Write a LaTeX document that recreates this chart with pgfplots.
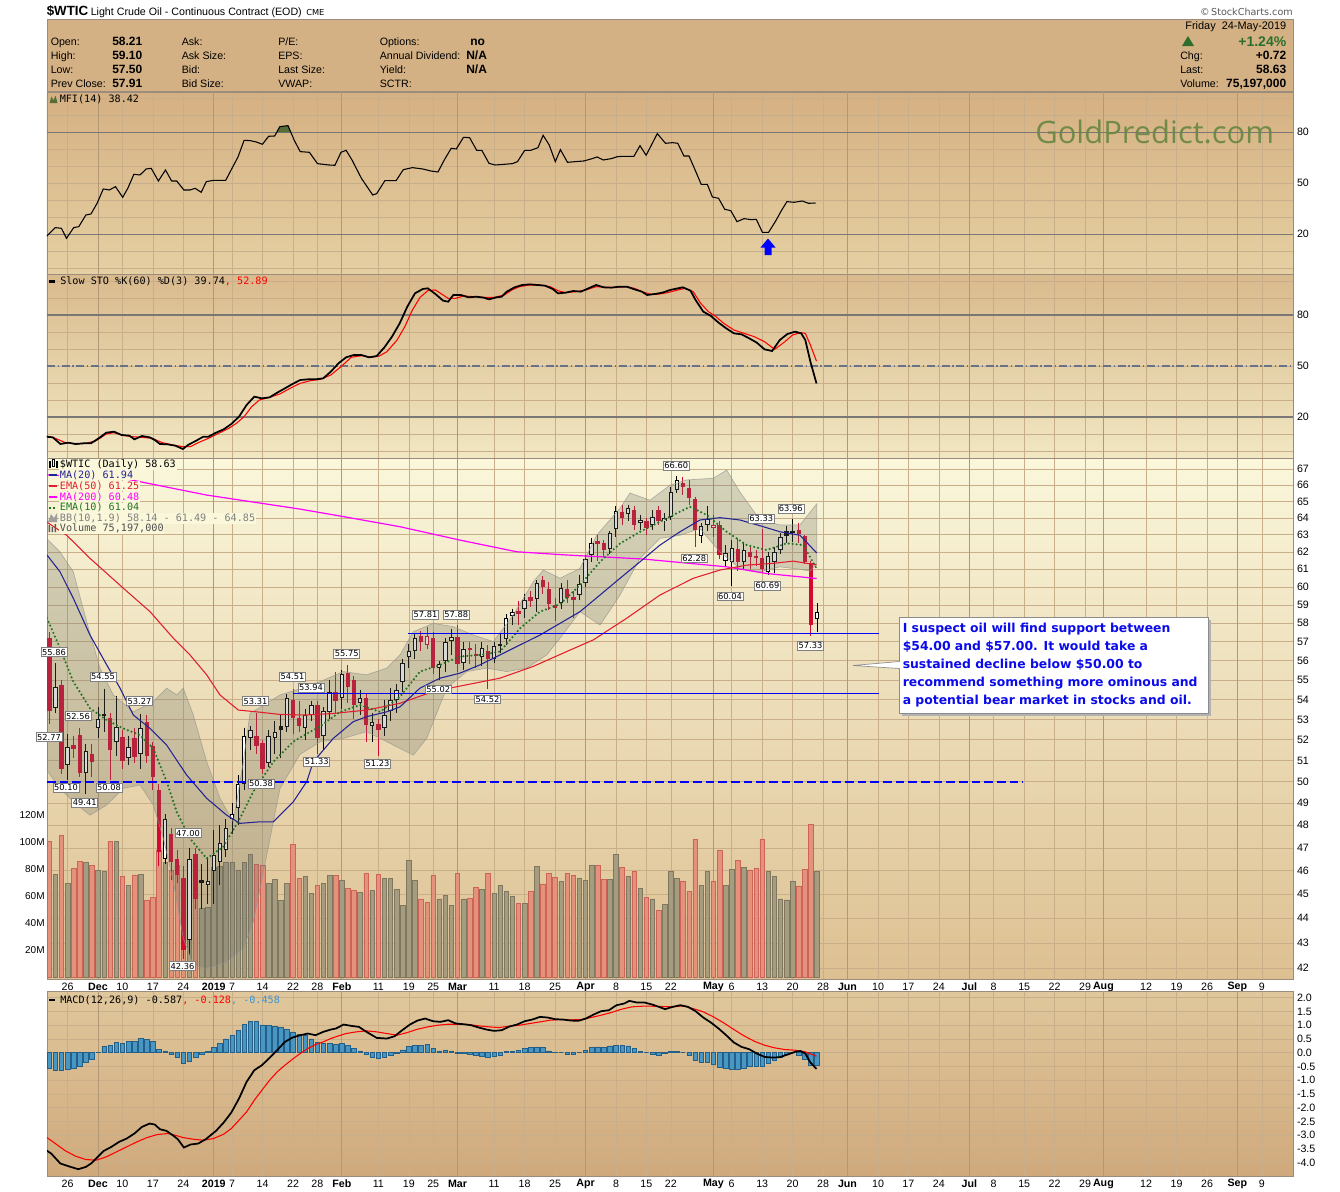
\documentclass[border=0pt]{standalone}
\usepackage{fontspec}
\setmainfont{Liberation Sans}
\newfontfamily\dvs{DejaVu Sans}
\newfontfamily\dvm{DejaVu Sans Mono}
\newfontfamily\osans{Open Sans}
\usepackage{pgfplots}
\usepackage{pgfplotstable}
\pgfplotsset{compat=1.18}
\newcommand\fs[2]{\fontsize{#1}{#2}\selectfont}
\definecolor{hdr}{RGB}{212,177,132}
\definecolor{framec}{RGB}{155,140,125}
\definecolor{mfitop}{RGB}{213,176,130}
\definecolor{mfibot}{RGB}{229,208,163}
\definecolor{stotop}{RGB}{217,186,141}
\definecolor{stobot}{RGB}{241,231,194}
\definecolor{prtop}{RGB}{250,247,219}
\definecolor{prmid}{RGB}{242,233,198}
\definecolor{prbot}{RGB}{221,192,146}
\definecolor{mactop}{RGB}{224,199,156}
\definecolor{macbot}{RGB}{207,169,124}
\definecolor{gridc}{RGB}{200,175,138}
\definecolor{gridm}{RGB}{178,152,118}
\definecolor{refc}{RGB}{122,120,118}
\definecolor{axr}{RGB}{170,110,100}
\definecolor{candred}{RGB}{212,8,48}
\definecolor{volred}{RGB}{228,146,124}
\definecolor{volredd}{RGB}{205,100,88}
\definecolor{volgray}{RGB}{166,157,128}
\definecolor{volgrayd}{RGB}{128,119,95}
\definecolor{bbfill}{RGB}{105,112,100}
\definecolor{bbline}{RGB}{150,150,145}
\definecolor{ma20c}{RGB}{35,35,150}
\definecolor{ema50c}{RGB}{225,30,45}
\definecolor{ma200c}{RGB}{255,0,255}
\definecolor{ema10c}{RGB}{35,115,35}
\definecolor{supc}{RGB}{0,0,255}
\definecolor{machist}{RGB}{72,150,196}
\definecolor{machistd}{RGB}{35,95,135}
\definecolor{macblue}{RGB}{60,150,210}
\definecolor{gp}{RGB}{104,134,66}
\definecolor{boxblue}{RGB}{10,10,235}
\definecolor{upg}{RGB}{45,110,45}
\definecolor{mfig}{RGB}{85,110,55}
\definecolor{stodash}{RGB}{105,115,135}
\pgfplotsset{
  panel/.style={
    scale only axis, width=934.5pt, xmin=47, xmax=1293, anchor=north west,
    axis line style={draw=framec, line width=0.5pt},
    major tick length=0pt, minor tick length=0pt,
    xtick={67.6,122.4,152.9,183.4,232.1,262.6,293.0,317.4,378.3,408.8,433.2,494.1,524.6,555.0,616.0,646.4,670.8,731.7,762.2,792.6,823.1,878.0,908.4,938.9,993.7,1024.2,1054.6,1085.1,1146.0,1176.5,1207.0,1261.8},
    extra x ticks={98.0,213.8,341.8,457.5,585.5,713.4,847.5,969.3,1103.4,1237.4},
    xticklabels={}, extra x tick labels={},
    xmajorgrids,
    major grid style={draw=gridc, line width=0.45pt},
    minor grid style={draw=gridc, line width=0.45pt},
    extra x tick style={grid=major, major grid style={draw=gridm, line width=0.6pt}},
    ytick pos=right, yticklabel pos=right,
    yticklabel style={font=\fs{8}{9}, anchor=west, inner sep=0pt, xshift=2.8pt},
    xticklabel style={font=\fs{8}{9}, anchor=center, inner sep=0pt, yshift=-5.6pt},
  },
  datelabels/.style={
    xticklabels={26,10,17,24,7,14,22,28,11,19,25,11,18,25,8,15,22,6,13,20,28,10,17,24,8,15,22,29,12,19,26,9},
    extra x tick labels={\textbf{Dec},\textbf{2019},\textbf{Feb},\textbf{Mar},\textbf{Apr},\textbf{May},\textbf{Jun},\textbf{Jul},\textbf{Aug},\textbf{Sep}},
  },
  candle/.style={draw=none, mark=none, mark size=0pt, forget plot},
}
\tikzset{
  plab/.style={draw=black!50, fill=white, inner sep=0.9pt, font=\dvs\fs{6.2}{7}, line width=0.4pt},
  leg/.style={anchor=west, inner sep=0.5pt, font=\dvm\fs{7.6}{8}, fill=prtop},
  hl/.style={anchor=base west, inner sep=0pt, font=\fs{8}{9}},
  hv/.style={anchor=base west, inner sep=0pt, font=\bfseries\fs{9}{10}},
}
\begin{document}
\pgfplotstableread{
i o h l c v t m
0 57.2 57.5 52.77 53.43 100.7 2 -0.57
1 53.55 55.86 53.3 54.63 76 0 -0.63
2 54.73 55.0 50.35 50.58 104.7 2 -0.65
3 50.8 52.3 50.10 51.63 69.4 0 -0.61
4 51.75 52.2 51.1 51.56 80.5 2 -0.55
5 52.25 52.56 50.2 50.40 85.4 2 -0.48
6 50.4 51.8 49.41 51.45 85 0 -0.36
7 51.3 51.8 50.2 50.93 82.5 2 -0.23
8 52.6 53.6 52.1 53.0 78.8 0 0.02
9 53.15 54.55 52.4 53.25 78 0 0.24
10 53.06 53.3 50.08 51.49 100.2 2 0.28
11 51.9 54.2 51.2 52.61 100.2 0 0.38
12 52.15 52.5 50.6 51.0 74.3 2 0.34
13 51.1 52.2 50.8 51.65 68.1 0 0.42
14 52.1 52.6 50.9 51.15 75.6 2 0.42
15 51.3 53.27 50.6 52.58 76 0 0.52
16 52.9 53.2 50.9 51.20 56.5 2 0.48
17 51.7 51.9 49.6 50.2 59 2 0.42
18 49.6 49.9 46.2 46.8 94 2 0.12
19 46.5 48.5 46.3 48.3 85 0 0.07
20 47.6 47.9 45.6 46.4 79.3 2 -0.05
21 46.5 46.9 45.5 45.8 82.5 2 -0.18
22 45.7 46.2 42.36 42.7 53.3 2 -0.39
23 43.1 47.0 42.5 46.5 79.3 0 -0.30
24 46.75 47.0 44.4 44.8 82.5 2 -0.18
25 45.6 46.3 44.4 45.5 50.9 1 -0.06
26 45.4 46.6 44.6 45.55 51.6 0 0.06
27 46.0 47.8 44.6 46.7 81.2 0 0.18
28 46.4 48.0 45.4 47.2 81.7 0 0.34
29 46.9 48.3 46.6 47.9 85 0 0.50
30 48.3 49.0 47.6 48.5 85 0 0.64
31 48.8 50.3 48.0 49.9 79.3 0 0.82
32 49.9 52.6 49.6 52.2 85 0 1.03
33 52.1 52.7 51.5 52.5 91.1 0 1.15
34 52.2 53.31 51.3 51.7 83.5 2 1.15
35 51.85 52.0 50.38 50.6 83 2 1.01
36 50.9 52.5 50.7 52.2 69.4 0 0.98
37 52.1 52.9 51.3 52.4 72.4 0 0.95
38 52.7 53.2 51.1 52.5 56.5 1 0.91
39 52.65 54.3 52.4 54.1 69.4 0 0.85
40 54.0 54.51 52.3 53.06 98.3 2 0.76
41 53.06 53.9 52.4 52.7 73.1 2 0.67
42 52.6 53.5 52.0 53.2 74.3 0 0.62
43 53.2 53.94 52.9 53.7 62 0 0.50
44 53.7 53.9 51.33 52.1 68.1 2 0.38
45 52.2 53.6 51.5 53.4 69.4 0 0.34
46 53.35 55.0 53.0 54.4 75 0 0.34
47 54.4 55.4 53.3 53.9 75 2 0.30
48 54.06 55.5 53.5 55.3 71.4 0 0.34
49 55.37 55.75 53.8 54.62 65.7 2 0.28
50 55.0 55.2 53.0 53.73 64.4 2 0.16
51 53.8 54.5 53.2 54.06 62.7 0 0.07
52 54.06 54.3 51.9 52.75 76.8 2 -0.04
53 52.69 53.3 51.9 52.86 64.4 0 -0.15
54 52.76 53.0 51.23 52.48 76 2 -0.21
55 52.56 54.0 52.2 53.2 73.1 0 -0.17
56 53.4 54.6 52.9 53.98 73.1 0 -0.11
57 53.98 54.8 53.3 54.48 65 0 -0.02
58 54.9 56.1 54.4 55.9 53.3 0 0.10
59 56.2 56.9 55.6 56.5 86.2 0 0.22
60 56.5 57.4 56.1 57.2 71.4 0 0.28
61 57.3 57.6 56.5 57.0 57.8 2 0.28
62 56.85 57.81 56.6 57.3 55 3 0.30
63 57.2 57.5 55.3 55.6 75 2 0.16
64 55.6 56.0 55.02 55.8 57.8 0 0.07
65 56.0 57.2 55.4 57.0 60.7 0 0.10
66 57.05 57.7 56.3 57.26 53.3 0 0.07
67 57.26 57.88 55.4 55.8 76.8 2 -0.02
68 55.9 57.0 55.5 56.6 57.8 0 -0.02
69 56.65 57.0 55.8 56.56 58.3 2 -0.06
70 56.35 56.9 55.6 56.22 66.4 2 -0.08
71 56.2 57.0 55.7 56.66 65 0 -0.12
72 56.5 56.8 54.52 56.07 76.8 2 -0.16
73 56.1 57.0 55.9 56.79 62 0 -0.12
74 56.8 57.4 56.4 56.87 68.1 0 -0.08
75 57.13 58.5 56.8 58.26 63.7 0 0.04
76 58.4 58.8 57.9 58.61 59.5 0 0.06
77 58.65 59.2 57.9 58.52 54.6 2 0.08
78 58.8 59.6 58.3 59.3 54.6 0 0.16
79 59.45 59.8 58.9 59.2 63.5 2 0.18
80 59.35 60.4 58.6 60.23 81.7 0 0.21
81 60.4 60.6 59.6 59.98 68.9 2 0.18
82 59.9 60.3 58.7 59.04 76.8 2 0.07
83 59.0 59.4 58.1 58.82 73.8 2 0.01
84 59.1 60.2 58.8 59.94 70.6 0 0
85 59.9 60.4 59.1 59.41 76.8 2 -0.04
86 59.46 59.8 58.3 59.30 75 2 -0.06
87 59.55 60.7 59.3 60.14 73.1 0 0
88 60.2 61.8 60.0 61.59 71.4 0 0.08
89 61.82 62.8 61.4 62.55 82.5 0 0.18
90 62.65 63.0 61.5 62.46 82.5 2 0.21
91 62.55 62.7 61.7 62.10 72 2 0.18
92 62.15 63.2 61.9 63.08 72 0 0.25
93 63.34 64.7 62.9 64.40 91.1 0 0.28
94 64.38 64.8 63.6 64.0 81.2 2 0.28
95 64.22 64.8 63.8 64.61 74.6 0 0.25
96 64.48 64.7 63.3 63.58 78.3 2 0.16
97 63.7 64.2 63.3 63.89 65.7 0 0.06
98 63.8 64.0 63.0 63.40 58.7 2 0
99 63.6 64.5 63.3 64.05 57.8 0 -0.05
100 64.48 64.7 63.6 63.84 49.6 2 -0.08
101 63.82 64.3 63.2 64.0 54 0 -0.02
102 64.04 65.9 63.9 65.55 78.6 0 0.04
103 65.7 66.60 65.5 66.30 73.1 0 0.06
104 66.11 66.5 65.4 65.89 71.2 2 0
105 65.8 66.3 64.8 65.21 63.5 2 -0.11
106 65.15 65.3 62.28 63.30 101.9 2 -0.27
107 62.93 63.7 62.5 63.50 68.1 0 -0.33
108 63.58 64.7 63.2 63.91 78 0 -0.35
109 63.4 64.2 62.9 63.6 71.2 3 -0.42
110 63.58 63.8 61.6 61.81 93.5 2 -0.53
111 61.5 62.4 61.2 61.94 68.1 0 -0.57
112 61.43 62.7 60.04 62.25 79.5 0 -0.59
113 62.15 62.8 60.9 61.40 86.2 2 -0.59
114 61.43 62.5 61.0 62.12 81.2 0 -0.55
115 62.0 62.3 61.0 61.70 79.3 2 -0.51
116 61.75 62.1 61.2 61.66 80.5 2 -0.51
117 61.66 63.33 60.8 61.04 101.9 2 -0.48
118 60.86 62.0 60.69 61.78 78.3 0 -0.39
119 61.4 62.3 60.8 62.02 74.6 0 -0.27
120 62.1 63.1 61.9 62.87 57.8 0 -0.15
121 63.22 63.5 62.5 62.95 57.1 1 -0.06
122 63.1 63.96 62.6 63.22 71.2 0 0
123 63.26 63.7 62.5 63.05 67.5 2 -0.08
124 62.93 63.0 61.3 61.42 79.5 2 -0.23
125 61.38 61.5 57.33 57.91 113 2 -0.45
126 58.21 59.10 57.50 58.63 78.6 0 -0.46
}\ohlc
\pgfplotstableread{
x p
47 61.82
60 60.86
73.3 59.37
90 57.36
106.7 55.78
120 54.58
133.3 53.22
150 52.56
166.7 51.74
186.7 50.31
206.7 49.23
226.7 48.46
240 48.09
260 48.16
273.3 48.16
293.3 49.07
306.7 50.00
313.3 50.94
333.3 52.07
353.3 52.89
366.7 53.14
386.7 53.38
400 53.63
420 54.58
440 55.09
460 55.35
480 55.78
500 56.30
520 56.83
540 57.36
560 57.99
580 58.63
600 59.55
620 60.49
640 61.43
660 62.40
680 63.18
700 63.88
720 64.02
740 63.88
760 63.54
780 63.18
800 62.98
816.7 61.94
}\maTwenty
\pgfplotstableread{
x p
47 63.75
66.7 62.98
90 61.63
123.3 59.93
150 58.63
173.3 57.19
190 56.30
206.7 55.26
220 54.23
238.3 53.47
256.7 53.38
280 53.25
306.7 53.22
333.3 53.30
366.7 53.47
400 53.81
433.3 54.41
466.7 54.75
500 55.09
533.3 55.70
566.7 56.48
593.3 57.10
626.7 58.27
660 59.55
693.3 60.49
720 60.96
746.7 61.24
773.3 61.34
793.3 61.47
816.7 61.25
}\emaFifty
\pgfplotstableread{
x p
47 66.63
120 66.46
206.7 65.39
300 64.54
340 64.12
400 63.48
460 62.69
516.7 62.01
566.7 61.82
643 61.59
726.7 61.14
766.7 60.76
816.7 60.48
}\maTwoHundred
\pgfplotstableread{
x p
47 58.27
60 56.66
73.3 54.91
90 53.56
106.7 52.97
123.3 52.56
140 52.23
153.3 51.58
166.7 50.00
176.7 48.61
190 47.41
206.7 46.53
223.3 47.05
240 48.32
253.3 49.54
273.3 50.94
293.3 51.91
306.7 52.30
320 52.65
340 53.38
360 53.72
380 53.38
400 54.14
420 55.43
440 55.78
460 56.22
480 56.30
500 56.48
520 57.72
540 58.63
560 59.04
580 60.11
600 61.43
620 62.49
640 63.18
660 63.78
673.3 64.18
690 64.68
706.7 64.18
726.7 63.18
746.7 62.40
766.7 62.11
786.7 62.50
803.3 62.40
816.7 61.04
}\emaTen
\pgfplotstableread{
x p
46.7 62.79
60 62.00
73.3 60.86
86.7 58.08
100 55.61
113.3 54.23
133.3 53.38
153.3 53.89
166.7 54.58
176.7 54.23
183.3 54.58
193.3 53.22
206.7 50.94
220 49.23
233.3 48.16
243.3 50.94
250 53.30
266.7 53.81
280 54.23
300 54.54
320 54.91
343.3 55.43
366.7 55.26
386.7 55.61
400 56.30
413.3 57.54
433.3 57.99
453.3 57.81
473.3 57.36
493.3 57.01
513.3 58.45
533.3 60.29
543.3 60.96
560 60.49
580 61.05
596.7 62.98
620 64.59
630 65.51
650 65.08
670 66.00
686.7 66.32
713.3 66.43
726.7 66.94
740 65.57
760 63.88
780 63.59
800 63.59
816.7 64.85
816.7 61.30
810 60.90
800 61.00
780 61.14
760 60.86
740 61.05
720 62.00
700 63.36
680 62.98
660 62.79
640 61.63
620 59.55
600 57.90
580 58.63
560 57.19
546.7 56.30
526.7 55.61
506.7 55.43
486.7 55.61
466.7 55.43
446.7 54.58
426.7 52.07
413.3 51.26
400 51.58
386.7 51.91
366.7 52.40
343.3 52.07
320 51.9
300 51.3
280 49.69
266.7 46.68
253.3 43.86
243.3 42.78
226.7 42.24
206.7 41.98
193.3 42.11
183.3 43.18
173.3 45.53
163.3 47.42
153.3 48.92
140 49.85
123.3 49.69
106.7 48.92
90 48.46
73.3 49.07
60 49.69
46.7 50.55
}\bband
\pgfplotstableread{
x p
47 50
1023 50
}\fiftyline
\pgfplotstableread{
x p
408 57.45
879 57.45
}\supA
\pgfplotstableread{
x p
293 54.30
879 54.30
}\supB
\pgfplotstableread{
x v
46.1 18.63
55.3 23.92
61.4 23.53
66.5 17.65
73.7 23.92
78.8 24.51
85.9 31.37
91.0 31.96
97.1 38.24
103.3 46.67
109.4 46.08
115.5 48.04
122.7 41.76
127.8 47.06
133.9 55.29
140.0 54.90
146.1 58.43
151.2 58.82
158.4 51.37
165.5 57.84
171.6 51.37
176.7 51.37
183.9 46.08
190.0 46.08
195.1 47.06
201.2 44.71
206.3 50.98
213.5 51.76
225.7 51.76
238.0 65.49
244.1 75.29
250.2 75.10
256.3 74.31
262.4 72.94
268.6 77.65
274.7 77.84
279.8 83.33
288.0 83.92
294.1 75.49
300.2 68.63
309.4 68.24
317.5 61.57
328.8 60.78
334.9 60.59
341.0 68.24
346.1 69.41
352.2 63.53
361.4 52.94
372.7 43.14
376.7 43.92
384.9 51.57
396.1 51.57
403.3 58.04
412.4 59.22
422.7 58.43
430.8 57.25
438.0 56.67
444.1 63.53
451.2 70.59
456.3 70.20
463.5 77.06
469.6 76.86
476.7 69.41
481.8 69.41
489.0 61.76
495.1 60.78
504.3 61.18
512.4 61.57
517.5 62.75
524.7 69.41
530.8 69.41
538.0 70.98
543.1 78.24
549.2 72.55
555.3 62.75
560.4 69.80
567.5 62.35
575.7 62.75
583.9 63.14
591.0 64.31
597.1 65.49
603.3 63.73
611.4 64.51
617.5 65.69
623.7 65.88
633.9 65.88
640.0 72.16
646.1 66.47
657.3 79.22
665.5 73.53
672.6 73.92
677.8 73.53
683.9 66.08
689.0 66.08
695.1 57.84
701.2 49.41
707.3 49.41
712.4 41.96
718.6 41.18
724.7 34.71
730.8 33.92
737.0 27.45
744.1 29.22
751.2 28.63
756.3 28.82
762.4 21.18
768.6 21.18
775.7 27.84
780.8 33.33
786.9 39.22
794.1 38.82
802.2 39.61
808.4 38.24
815.5 38.42
}\mfi
\pgfplotstableread{
x k
46.1 8.43
52.8 8.04
60.4 4.12
68.1 4.90
75.7 4.12
83.4 4.51
91.0 4.51
98.7 7.45
106.3 10.78
114.0 11.37
121.6 9.41
129.3 9.02
134.4 6.86
142.0 8.82
149.7 8.04
154.8 6.47
159.9 4.12
167.6 3.92
175.2 3.14
182.9 1.18
188.0 3.53
195.6 5.88
203.3 8.43
208.4 8.43
216.0 10.78
223.7 12.75
231.3 15.88
239.0 20.20
246.6 27.06
254.3 31.96
261.9 30.98
269.6 31.57
277.2 34.31
284.9 36.86
292.5 39.41
300.2 41.76
307.9 42.16
315.5 42.16
323.2 42.75
330.8 46.67
338.5 51.57
346.1 55.10
353.8 56.47
361.4 56.47
369.1 55.10
376.7 55.88
384.4 60.98
392.0 67.25
399.7 75.10
407.3 84.90
415.0 92.75
422.7 95.29
427.8 95.69
435.4 92.35
443.1 88.43
448.2 87.84
453.3 91.76
460.9 91.76
468.6 90.39
476.2 90.78
483.9 90.20
489.0 89.22
496.6 90.39
501.7 90.78
506.8 93.73
514.5 96.27
522.1 97.65
529.8 98.04
537.4 97.65
545.1 97.25
552.8 95.29
557.9 92.75
565.5 93.14
573.2 94.12
580.8 93.73
588.5 95.69
596.1 97.65
603.8 96.27
611.4 96.08
619.1 96.67
626.7 96.67
634.4 95.10
642.0 93.73
647.1 91.76
654.8 92.35
662.4 93.14
670.1 94.71
677.8 95.69
682.9 96.27
690.5 94.31
695.6 88.82
703.3 81.96
710.9 79.41
718.6 75.49
726.2 72.16
733.9 69.22
741.5 68.63
749.2 66.27
756.8 63.73
764.5 59.80
772.1 58.82
779.8 65.29
787.4 68.82
795.1 70.20
801.2 69.22
805.3 65.29
810.4 52.55
816.5 39.74
}\stok
\pgfplotstableread{
x d
46.1 8.82
55.3 7.45
65.5 4.90
75.7 4.12
85.9 4.51
96.1 6.08
106.3 10.00
114.0 10.78
121.6 9.41
131.8 8.43
142.0 8.04
152.2 7.45
162.4 4.90
172.7 3.53
182.9 2.55
190.5 2.55
198.2 4.90
208.4 7.45
218.6 10.39
228.8 13.33
236.4 16.27
244.1 20.20
251.7 26.08
259.4 30.00
269.6 31.57
279.8 33.53
290.0 36.86
300.2 39.80
310.4 41.37
320.6 42.16
330.8 44.71
341.0 49.61
351.2 55.10
361.4 56.08
371.6 55.10
379.3 55.88
386.9 58.43
397.1 65.29
404.8 73.14
412.4 82.94
420.1 90.39
427.8 94.31
435.4 94.71
443.1 91.76
448.2 89.80
455.8 89.80
463.5 91.18
473.7 90.78
483.9 90.39
494.1 90.39
504.3 91.76
511.9 94.71
519.6 96.67
529.8 97.65
540.0 97.65
550.2 96.67
557.9 94.31
565.5 93.14
575.7 93.73
585.9 94.71
596.1 96.67
606.3 96.27
616.5 96.27
626.7 96.67
634.4 95.69
642.0 93.73
649.7 92.35
657.3 92.16
667.5 93.14
677.8 94.71
685.4 95.69
693.1 93.73
700.7 86.86
708.4 81.96
716.0 79.02
723.7 75.10
733.9 71.18
744.1 69.22
754.3 67.25
764.5 64.31
774.7 59.80
784.9 64.31
792.6 68.24
800.2 69.61
805.3 69.22
810.4 62.35
816.5 52.89
}\stod
\pgfplotstableread{
x m
46.1 -3.545
51.2 -3.667
60.4 -4.030
70.6 -4.152
78.3 -4.236
85.9 -4.152
91.0 -4.030
96.1 -3.848
103.8 -3.570
111.4 -3.424
119.1 -3.242
126.7 -3.121
134.4 -2.939
142.0 -2.697
149.7 -2.576
154.8 -2.612
159.9 -2.782
166.5 -2.842
172.7 -3.000
177.8 -3.145
183.9 -3.448
190.5 -3.339
198.2 -3.303
205.8 -3.145
216.0 -2.842
223.7 -2.539
231.3 -2.176
239.0 -1.667
246.6 -1.061
254.3 -0.636
261.9 -0.455
269.6 -0.188
277.2 0.091
284.9 0.394
292.5 0.552
300.2 0.636
307.9 0.697
315.5 0.636
323.2 0.758
330.8 0.842
335.9 0.879
343.6 1.024
351.2 0.976
358.9 0.939
366.5 0.758
376.7 0.539
386.9 0.515
394.6 0.600
402.2 0.818
409.9 1.024
417.5 1.170
425.2 1.242
432.9 1.145
440.5 1.121
448.2 1.182
455.8 1.061
463.5 1.036
471.1 1.000
478.8 0.915
486.4 0.842
494.1 0.794
501.7 0.818
509.4 0.952
517.0 1.024
524.7 1.145
532.3 1.206
540.0 1.303
547.6 1.279
555.3 1.218
563.0 1.206
570.6 1.170
578.3 1.158
585.9 1.242
593.6 1.388
601.2 1.509
608.9 1.545
616.5 1.727
624.2 1.788
629.3 1.885
636.9 1.824
644.6 1.824
652.2 1.752
659.9 1.655
665.0 1.582
672.6 1.667
680.3 1.727
688.0 1.667
695.6 1.509
703.3 1.279
710.9 1.097
718.6 0.879
726.2 0.636
733.9 0.370
741.5 0.212
749.2 0.127
756.8 -0.030
764.5 -0.152
772.1 -0.176
779.8 -0.164
787.4 -0.067
795.1 0.030
800.2 0.067
805.3 -0.030
810.4 -0.358
816.5 -0.587
}\macdl
\pgfplotstableread{
x s
46.1 -3.061
55.3 -3.303
65.5 -3.570
75.7 -3.764
85.9 -3.885
96.1 -3.909
106.3 -3.788
116.5 -3.606
126.7 -3.424
136.9 -3.242
147.1 -3.085
157.3 -2.976
167.6 -2.939
175.2 -3.000
182.9 -3.085
193.1 -3.145
203.3 -3.182
213.5 -3.121
223.7 -2.964
231.3 -2.758
239.0 -2.455
246.6 -2.152
254.3 -1.727
261.9 -1.364
269.6 -1.000
277.2 -0.697
284.9 -0.455
292.5 -0.236
300.2 -0.030
307.9 0.152
315.5 0.297
323.2 0.394
330.8 0.515
338.5 0.612
346.1 0.697
356.3 0.758
366.5 0.794
376.7 0.758
386.9 0.697
397.1 0.636
407.3 0.733
417.5 0.855
427.8 0.939
438.0 1.000
448.2 1.036
458.4 1.036
468.6 1.024
478.8 0.976
489.0 0.939
499.2 0.915
509.4 0.964
519.6 1.000
529.8 1.061
540.0 1.121
550.2 1.182
560.4 1.206
570.6 1.194
580.8 1.206
591.0 1.279
601.2 1.364
611.4 1.461
621.6 1.582
631.8 1.667
642.0 1.691
652.2 1.691
662.4 1.679
672.6 1.667
682.9 1.703
693.1 1.606
703.3 1.485
713.5 1.303
723.7 1.085
733.9 0.842
744.1 0.612
754.3 0.418
764.5 0.273
774.7 0.176
784.9 0.115
795.1 0.091
805.3 0.030
816.5 -0.128
}\macds
\begin{tikzpicture}[x=0.75pt,y=-0.75pt]
\useasboundingbox (0,0) rectangle (1340,1192);
\fill[white] (0,0) rectangle (1340,1192);
\fill[hdr] (47,19.5) rectangle (1293,91.5);
\draw[framec, line width=0.6pt] (47,19.5) rectangle (1293,91.5);

% ---------------- MFI panel
\begin{axis}[panel, at={(35.25pt,-69pt)}, height=136.5pt, ymin=-3.35, ymax=103.71,
  ytick={20,50,80}, yticklabels={20,50,80},
  minor ytick={0,10,...,100}, yminorgrids,
  extra y ticks={20,80}, extra y tick labels={},
  extra y tick style={grid=major, major grid style={draw=refc, line width=0.9pt}},
  axis background/.style={shade, top color=mfitop, bottom color=mfibot}]
\addplot[fill=mfig, draw=none] coordinates {(276.7,80) (279.8,83.33) (288.0,83.92) (290.8,80)};
\addplot[black, line width=0.8pt] table[x=x, y=v] {\mfi};
\draw[axr, densely dotted, line width=0.6pt] (rel axis cs:1,0) -- (rel axis cs:1,1);
\end{axis}

% ---------------- STO panel
\begin{axis}[panel, at={(35.25pt,-205.5pt)}, height=138pt, ymin=-4.12, ymax=104.12,
  ytick={20,50,80}, yticklabels={20,50,80},
  minor ytick={0,10,...,100}, yminorgrids,
  extra y ticks={20,80}, extra y tick labels={},
  extra y tick style={grid=major, major grid style={draw=refc, line width=0.9pt}},
  axis background/.style={shade, top color=stotop, bottom color=stobot}]
\addplot[stodash, line width=0.8pt, dash pattern=on 6pt off 2pt on 1pt off 2pt] coordinates {(47,50) (1293,50)};
\addplot[red, line width=0.8pt] table[x=x, y=d] {\stod};
\addplot[black, line width=1.3pt] table[x=x, y=k] {\stok};
\draw[axr, densely dotted, line width=0.6pt] (rel axis cs:1,0) -- (rel axis cs:1,1);
\end{axis}

% ---------------- Price panel background + grid + labels
\begin{axis}[panel, datelabels, at={(35.25pt,-343.5pt)}, height=390.75pt, ymin=3.727344, ymax=4.21499,
  ytick={3.73767,3.76120,3.78419,3.80666,3.82864,3.85015,3.87120,3.89182,3.91202,3.93183,3.95124,3.97029,3.98898,4.00733,4.02535,4.04305,4.06044,4.07754,4.09434,4.11087,4.12713,4.14313,4.15888,4.17439,4.18965,4.20469},
  yticklabels={42,43,44,45,46,47,48,49,50,51,52,53,54,55,56,57,58,59,60,61,62,63,64,65,66,67},
  ymajorgrids,
  axis background/.style={shade, top color=prtop, middle color=prmid, bottom color=prbot}]
\draw[axr, densely dotted, line width=0.6pt] (rel axis cs:1,0) -- (rel axis cs:1,1);
\end{axis}

% ---------------- Volume
\begin{axis}[scale only axis, width=934.5pt, height=390.75pt, at={(35.25pt,-343.5pt)}, anchor=north west,
  xmin=47, xmax=1293, ymin=-1.48, ymax=384.4, axis line style={draw=none},
  major tick length=0pt, xtick=\empty,
  ytick={20,40,60,80,100,120}, yticklabels={20M,40M,60M,80M,100M,120M},
  yticklabel style={font=\fs{7.5}{8}, anchor=east, inner sep=0pt, xshift=-1.6pt}]
\addplot[ybar, bar width=3.4pt, bar shift=0pt, fill=volgray, draw=volgrayd, line width=0.45pt,
  restrict expr to domain={\thisrow{t}}{-0.5:1.5}] table[x expr=49.3+6.093*\thisrow{i}, y=v] {\ohlc};
\addplot[ybar, bar width=3.4pt, bar shift=0pt, fill=volred, draw=volredd, line width=0.45pt,
  restrict expr to domain={\thisrow{t}}{1.5:3.5}] table[x expr=49.3+6.093*\thisrow{i}, y=v] {\ohlc};
\end{axis}

% ---------------- Price data
\begin{axis}[scale only axis, width=934.5pt, height=390.75pt, at={(35.25pt,-343.5pt)}, anchor=north west,
  xmin=47, xmax=1293, ymin=3.727344, ymax=4.21499, hide axis]
\addplot[candle, restrict expr to domain={\thisrow{t}}{-0.5:1.5},
  error bars/.cd, y dir=minus, y explicit, error mark=none, error bar style={draw=black, line width=0.75pt}]
  table[x expr=49.3+6.093*\thisrow{i}, y expr=ln(\thisrow{h}), y error minus expr=ln(\thisrow{h})-ln(\thisrow{l})] {\ohlc};
\addplot[candle, restrict expr to domain={\thisrow{t}}{1.5:3.5},
  error bars/.cd, y dir=minus, y explicit, error mark=none, error bar style={draw=candred, line width=0.75pt}]
  table[x expr=49.3+6.093*\thisrow{i}, y expr=ln(\thisrow{h}), y error minus expr=ln(\thisrow{h})-ln(\thisrow{l})] {\ohlc};
\addplot[candle, restrict expr to domain={\thisrow{t}}{-0.5:1.5},
  error bars/.cd, y dir=both, y explicit, error mark=none, error bar style={draw=black, line width=3.3pt}]
  table[x expr=49.3+6.093*\thisrow{i}, y expr={(ln(\thisrow{o})+ln(\thisrow{c}))/2},
        y error expr={max(abs(ln(\thisrow{o})-ln(\thisrow{c}))/2,0.0006)}] {\ohlc};
\addplot[candle, restrict expr to domain={\thisrow{t}}{1.5:3.5},
  error bars/.cd, y dir=both, y explicit, error mark=none, error bar style={draw=candred, line width=3.3pt}]
  table[x expr=49.3+6.093*\thisrow{i}, y expr={(ln(\thisrow{o})+ln(\thisrow{c}))/2},
        y error expr={max(abs(ln(\thisrow{o})-ln(\thisrow{c}))/2,0.0006)}] {\ohlc};
\addplot[candle, restrict expr to domain={abs(\thisrow{t}-1.5)}{1:2},
  error bars/.cd, y dir=both, y explicit, error mark=none, error bar style={draw=white, line width=1.8pt}]
  table[x expr=49.3+6.093*\thisrow{i}, y expr={(ln(\thisrow{o})+ln(\thisrow{c}))/2},
        y error expr={max(abs(ln(\thisrow{o})-ln(\thisrow{c}))/2-0.00094,0)}] {\ohlc};
\addplot[fill=bbfill, fill opacity=0.26, draw=bbline, draw opacity=0.7, line width=0.5pt] table[x=x, y expr=ln(\thisrow{p})] {\bband};
\addplot[ma200c, line width=0.9pt] table[x=x, y expr=ln(\thisrow{p})] {\maTwoHundred};
\addplot[ema50c, line width=0.8pt] table[x=x, y expr=ln(\thisrow{p})] {\emaFifty};
\addplot[ma20c, line width=0.8pt] table[x=x, y expr=ln(\thisrow{p})] {\maTwenty};
\addplot[ema10c, line width=1.8pt, line cap=round, dash pattern=on 0pt off 3pt] table[x=x, y expr=ln(\thisrow{p})] {\emaTen};
\addplot[draw=supc, line width=1.2pt] table[x=x, y expr=ln(\thisrow{p})] {\supA};
\addplot[draw=supc, line width=1.2pt] table[x=x, y expr=ln(\thisrow{p})] {\supB};
\addplot[draw=supc, line width=1.7pt, dash pattern=on 6.5pt off 3pt] table[x=x, y expr=ln(\thisrow{p})] {\fiftyline};
\end{axis}

% ---------------- MACD panel
\begin{axis}[panel, datelabels, at={(35.25pt,-743.25pt)}, height=138.75pt, ymin=-4.4836, ymax=2.2436,
  ytick={-4,-3.5,-3,-2.5,-2,-1.5,-1,-0.5,0,0.5,1,1.5,2},
  yticklabels={-4.0,-3.5,-3.0,-2.5,-2.0,-1.5,-1.0,-0.5,0.0,0.5,1.0,1.5,2.0},
  ymajorgrids,
  axis background/.style={shade, top color=mactop, bottom color=macbot}]
\addplot[ybar, bar width=3.4pt, bar shift=0pt, fill=machist, draw=machistd, line width=0.4pt]
  table[x expr=49.3+6.093*\thisrow{i}, y=m] {\ohlc};
\addplot[red, line width=0.8pt] table[x=x, y=s] {\macds};
\addplot[black, line width=1.3pt] table[x=x, y=m] {\macdl};
\draw[axr, densely dotted, line width=0.6pt] (rel axis cs:1,0) -- (rel axis cs:1,1);
\end{axis}

% ---------------- header texts
\node[anchor=base west, inner sep=0pt, font=\bfseries\fs{10}{11}] at (46.5,15.5) {\$WTIC};
\node[anchor=base west, inner sep=0pt, font=\fs{8}{9}] at (90.5,15.5) {Light Crude Oil - Continuous Contract (EOD)};
\node[anchor=base west, inner sep=0pt, font=\dvs\fs{6.2}{7}] at (306,15.5) {CME};
\node[anchor=base east, inner sep=0pt, font=\dvs\fs{7.2}{8}, text=black!65] at (1293,15.5) {\textcopyright\,StockCharts.com};
\node[hl] at (50.5,45.5) {Open:};
\node[hl] at (50.5,59.5) {High:};
\node[hl] at (50.5,73.8) {Low:};
\node[hl] at (50.5,87.8) {Prev Close:};
\node[hv] at (112,45.5) {58.21};
\node[hv] at (112,59.5) {59.10};
\node[hv] at (112,73.8) {57.50};
\node[hv] at (112,87.8) {57.91};
\node[hl] at (181.5,45.5) {Ask:};
\node[hl] at (181.5,59.5) {Ask Size:};
\node[hl] at (181.5,73.8) {Bid:};
\node[hl] at (181.5,87.8) {Bid Size:};
\node[hl] at (278,45.5) {P/E:};
\node[hl] at (278,59.5) {EPS:};
\node[hl] at (278,73.8) {Last Size:};
\node[hl] at (278,87.8) {VWAP:};
\node[hl] at (379.5,45.5) {Options:};
\node[hl] at (379.5,59.5) {Annual Dividend:};
\node[hl] at (379.5,73.8) {Yield:};
\node[hl] at (379.5,87.8) {SCTR:};
\node[hv] at (470,45.5) {no};
\node[hv] at (466,59.5) {N/A};
\node[hv] at (466,73.8) {N/A};
\node[anchor=base east, inner sep=0pt, font=\fs{8.2}{9}] at (1286.5,30) {Friday\ \ 24-May-2019};
\fill[upg] (1182,46) -- (1188,36) -- (1194,46) -- cycle;
\node[anchor=base east, inner sep=0pt, font=\bfseries\fs{10.5}{11}, text=upg] at (1286.5,46) {+1.24\%};
\node[hl] at (1180,59.5) {Chg:};
\node[hl] at (1180,73.8) {Last:};
\node[hl] at (1180,87.8) {Volume:};
\node[anchor=base east, inner sep=0pt, font=\bfseries\fs{9}{10}] at (1286.5,59.5) {+0.72};
\node[anchor=base east, inner sep=0pt, font=\bfseries\fs{9}{10}] at (1286.5,73.8) {58.63};
\node[anchor=base east, inner sep=0pt, font=\bfseries\fs{9}{10}] at (1286.5,87.8) {75,197,000};

% ---------------- watermark
\node[anchor=base west, inner sep=0pt, font=\osans\fs{23.2}{24}, text=gp, opacity=0.9] at (1035,143.3) {GoldPredict.com};

% ---------------- panel legends
\fill[mfig] (49.5,103) -- (51.5,96.5) -- (53.5,100.5) -- (55.5,95.5) -- (57.5,103) -- cycle;
\node[anchor=west, inner sep=0pt, font=\dvm\fs{7.6}{8}] at (59.5,99.5) {MFI(14) 38.42};
\draw[line width=2pt] (48.5,281.5) -- (55,281.5);
\node[anchor=west, inner sep=0pt, font=\dvm\fs{7.6}{8}] at (60,281.5) {Slow STO \%K(60) \%D(3) 39.74\textcolor{red}{, 52.89}};
\draw[line width=2pt] (48.5,1000) -- (55,1000);
\node[anchor=west, inner sep=0pt, font=\dvm\fs{7.6}{8}] at (60,1000) {MACD(12,26,9) -0.587\textcolor{red}{, -0.128}\textcolor{macblue}{, -0.458}};

% price legend
\fill (49,460.5) rectangle (50.5,468); \draw[line width=0.5pt] (52.5,459.5) rectangle (54.5,466); \fill (56,461) rectangle (57.5,468);
\node[leg] at (59,464.3) {\$WTIC (Daily) 58.63};
\draw[ma20c, line width=1.6pt] (48.5,475) -- (56.5,475);
\node[leg, text=ma20c] at (59,475) {MA(20) 61.94};
\draw[ema50c, line width=1.6pt] (48.5,486) -- (56.5,486);
\node[leg, text=ema50c] at (59,486) {EMA(50) 61.25};
\draw[ma200c, line width=1.6pt] (48.5,497) -- (56.5,497);
\node[leg, text=ma200c] at (59,497) {MA(200) 60.48};
\draw[ema10c, line width=1.6pt, dash pattern=on 2pt off 1.2pt] (48.5,507.7) -- (57,507.7);
\node[leg, text=ema10c] at (59,507.7) {EMA(10) 61.04};
\fill[gray!75] (48,522) -- (51,514) -- (54,518) -- (57,513) -- (57,522) -- cycle;
\node[leg, text=black!50] at (59,518.3) {BB(10,1.9) 58.14 - 61.49 - 64.85};
\fill[black!65] (48.5,525) rectangle (50,532) (51.5,527) rectangle (53,532) (54.5,524) rectangle (56,532);
\node[leg, text=black!70] at (59,528.3) {Volume 75,197,000};

% ---------------- price annotations
\node[plab] at (54,652) {55.86};
\node[plab] at (49,737) {52.77};
\node[plab] at (78,716) {52.56};
\node[plab] at (103,676.5) {54.55};
\node[plab] at (139.5,701) {53.27};
\node[plab] at (66,787.5) {50.10};
\node[plab] at (84.7,802.5) {49.41};
\node[plab] at (109,787.5) {50.08};
\node[plab] at (188,833) {47.00};
\node[plab] at (182.5,966) {42.36};
\node[plab] at (255.5,701) {53.31};
\node[plab] at (261,783.5) {50.38};
\node[plab] at (292.5,677) {54.51};
\node[plab] at (311,687.5) {53.94};
\node[plab] at (316.7,761.7) {51.33};
\node[plab] at (346.7,653.8) {55.75};
\node[plab] at (377.5,763.8) {51.23};
\node[plab] at (425.5,614.7) {57.81};
\node[plab] at (456.2,614.7) {57.88};
\node[plab] at (438.3,689.2) {55.02};
\node[plab] at (487.5,699.2) {54.52};
\node[plab] at (676.2,465.5) {66.60};
\node[plab] at (694.2,558.2) {62.28};
\node[plab] at (730,596.2) {60.04};
\node[plab] at (761.2,518.5) {63.33};
\node[plab] at (767.5,585.5) {60.69};
\node[plab] at (790.8,508.8) {63.96};
\node[plab] at (810.5,645.5) {57.33};

% ---------------- blue arrow in MFI
\fill[blue] (768,238.5) -- (775.5,247.5) -- (771.5,247.5) -- (771.5,255) -- (764.5,255) -- (764.5,247.5) -- (760.5,247.5) -- cycle;

% ---------------- comment box
\fill[black!30] (902,620) rectangle (1211,716);
\draw[fill=white, draw=black!45, line width=0.6pt] (899.5,617.5) rectangle (1208.5,713.5);
\filldraw[fill=white, draw=black!45, line width=0.5pt] (899.5,661.5) -- (853,665.5) -- (899.5,668.5);
\fill[white] (899,662.2) rectangle (900.6,667.8);
\node[anchor=north west, inner sep=0pt, align=left, text=boxblue, font=\dvs\bfseries\fs{9.3}{13.5}] at (902.5,622.5)
 {I suspect oil will find support between\\\$54.00 and \$57.00. It would take a\\sustained decline below \$50.00 to\\recommend something more ominous and\\a potential bear market in stocks and oil.};
\end{tikzpicture}
\end{document}
